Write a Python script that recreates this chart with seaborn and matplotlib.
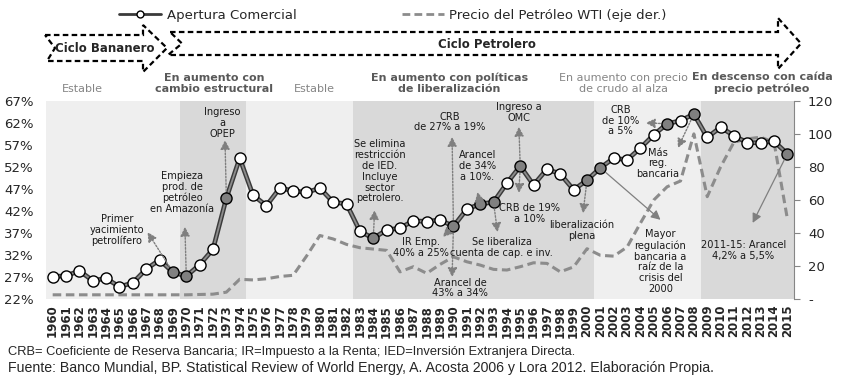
import matplotlib
matplotlib.use('Agg')
import matplotlib.pyplot as plt
from matplotlib.lines import Line2D
from matplotlib.patches import Polygon
import seaborn as sns
import pandas as pd

# --- Datos ---
years = list(range(1960, 2016))
apertura = [27.1, 27.3, 28.4, 26.2, 26.7, 24.8, 25.7, 28.8, 30.9, 28.1,
            27.2, 29.8, 33.3, 44.9, 54.0, 45.6, 43.2, 47.2, 46.6, 46.2,
            47.2, 44.0, 43.6, 37.4, 35.8, 37.7, 38.1, 39.8, 39.6, 40.0,
            38.5, 42.4, 43.6, 44.0, 48.3, 52.2, 47.9, 51.5, 50.4, 46.8,
            49.0, 51.8, 54.0, 53.6, 56.3, 59.3, 61.8, 62.5, 64.0, 58.7,
            61.0, 59.1, 57.5, 57.5, 57.8, 55.0]
petroleo = [2.6, 2.6, 2.6, 2.6, 2.6, 2.6, 2.6, 2.6, 2.6, 2.6,
            2.6, 2.8, 3.0, 4.2, 12.0, 11.6, 12.3, 13.7, 14.4, 26.0,
            38.5, 36.4, 33.1, 31.1, 30.3, 29.5, 16.5, 19.6, 15.6, 21.0,
            25.6, 22.6, 20.6, 18.0, 17.6, 19.6, 22.0, 21.6, 16.5, 19.5,
            30.5, 26.5, 26.0, 31.5, 46.0, 60.0, 68.0, 71.5, 100.0, 62.0,
            80.0, 95.0, 97.0, 98.0, 95.0, 48.5]
hitos = [1969, 1970, 1973, 1984, 1990, 1992, 1993, 1995, 2000, 2001, 2006, 2008, 2015]

etapa_ini = [1959.5, 1969.5, 1974.5, 1982.5, 2000.5, 2008.5]
etapa_fin = [1969.5, 1974.5, 1982.5, 2000.5, 2008.5, 2015.5]
etapa_color = ['#efefef', '#d9d9d9', '#efefef', '#d9d9d9', '#efefef', '#d9d9d9']
etapa_texto = ["Estable", "En aumento con\ncambio estructural", "Estable",
               "En aumento con políticas\nde liberalización",
               "En aumento con precio\nde crudo al alza",
               "En descenso con caída\nprecio petróleo"]
etapa_x = [1962.2, 1972.1, 1979.6, 1989.7, 2002.7, 2013.1]
etapa_negrita = [False, True, False, True, False, True]

# (texto, x texto, y texto, x punta, y punta, año del punto)
notas = [
    ("Primer\nyacimiento\npetrolífero", 1964.8, 37.7, 1967.1, 37.2, 1969),
    ("Empieza\nprod. de\npetróleo\nen Amazonía", 1969.7, 46.2, 1969.9, 38.4, 1970),
    ("Ingreso\na\nOPEP", 1972.7, 62.0, 1972.9, 58.1, 1973),
    ("Se elimina\nrestricción\nde IED.\nIncluye\nsector\npetrolero.", 1984.5, 51.0, 1984.1, 42.2, 1984),
    ("IR Emp.\n40% a 25%", 1987.6, 33.7, 1989.2, 36.1, 1990),
    ("CRB\nde 27% a 19%", 1989.7, 62.2, 1989.9, 58.8, 1990),
    ("Arancel de\n43% a 34%", 1990.5, 24.5, 1989.9, 27.0, 1990),
    ("Arancel\nde 34%\na 10%.", 1991.8, 52.2, 1991.8, 46.3, 1992),
    ("Se liberaliza\ncuenta de cap. e inv.", 1993.6, 33.8, 1993.3, 37.2, 1993),
    ("Ingreso a\nOMC", 1994.9, 64.4, 1994.9, 61.1, 1995),
    ("CRB de 19%\na 10%", 1995.7, 41.5, 1994.9, 46.1, 1995),
    ("liberalización\nplena", 1999.6, 37.6, 1999.7, 41.5, 2000),
    ("CRB\nde 10%\na 5%", 2002.5, 62.5, 2004.4, 62.0, 2006),
    ("Más\nreg.\nbancaria", 2005.3, 52.8, 2006.8, 56.3, 2008),
    ("Mayor\nregulación\nbancaria a\nraíz de la\ncrisis del\n2000", 2005.5, 30.5, 2005.5, 40.0, 2001),
    ("2011-15: Arancel\n4,2% a 5,5%", 2011.7, 33.0, 2012.4, 39.3, 2015),
]

df = pd.DataFrame({'anio': years, 'apertura': apertura, 'petroleo': petroleo})
df['hito'] = df['anio'].isin(hitos)

sns.set_style("white")
plt.rcParams['font.family'] = ['DejaVu Sans']

fig, ax = plt.subplots(figsize=(8.52, 3.82), dpi=100)
fig.subplots_adjust(left=0.054, right=0.932, bottom=0.217, top=0.736)
ax2 = ax.twinx()
ax.set_zorder(ax2.get_zorder() + 1)
ax.patch.set_visible(False)

# fondo por etapas (en el eje de abajo)
for a, b, c in zip(etapa_ini, etapa_fin, etapa_color):
    ax2.axvspan(a, b, color=c, lw=0, zorder=0)

sns.lineplot(data=df, x='anio', y='petroleo', ax=ax2, color='#8c8c8c', lw=2.2,
             linestyle=(0, (2.8, 1.5)), zorder=2)
ax2.set_ylim(0, 120)
ax2.set_yticks([0, 20, 40, 60, 80, 100, 120])
ax2.set_yticklabels(['-', '20', '40', '60', '80', '100', '120'], fontsize=9.5)

sns.lineplot(data=df, x='anio', y='apertura', ax=ax, color='#3a3a3a', lw=3.4, zorder=3)
sns.lineplot(data=df, x='anio', y='apertura', ax=ax, color='#8c8c8c', lw=1.3, zorder=4)
sns.scatterplot(data=df[~df['hito']], x='anio', y='apertura', ax=ax, s=64,
                color='white', edgecolor='black', linewidth=1.0, zorder=5)
sns.scatterplot(data=df[df['hito']], x='anio', y='apertura', ax=ax, s=64,
                color='#808080', edgecolor='black', linewidth=1.0, zorder=5)

ax.set_xlim(1959.5, 2015.5)
ax.set_ylim(22, 67)
ax.set_yticks(range(22, 68, 5))
ax.set_yticklabels([f"{v}%" for v in range(22, 68, 5)], fontsize=9.5)
ax.set_xticks(years)
ax.set_xticklabels([str(y) for y in years], rotation=90, fontsize=8.5, fontweight='bold')
ax.tick_params(axis='x', length=0, pad=4)
ax.tick_params(axis='y', length=0, pad=9)
ax.set_xlabel('')
ax.set_ylabel('')
ax2.set_ylabel('')
for s in ['top', 'left', 'bottom', 'right']:
    ax.spines[s].set_visible(False)
    ax2.spines[s].set_visible(False)
ax2.spines['right'].set_visible(True)
ax2.spines['right'].set_color('#868686')
ax2.tick_params(axis='y', length=4, color='#868686', pad=6)

# etiquetas de etapas
for t, x, neg in zip(etapa_texto, etapa_x, etapa_negrita):
    ax.text(x, 1.035, t, transform=ax.get_xaxis_transform(), ha='center', va='bottom',
            fontsize=8, linespacing=1.15,
            fontweight='bold' if neg else 'normal',
            color='#595959' if neg else '#858585')

# anotaciones
for t, tx, ty, hx, hy, yr in notas:
    vy = apertura[years.index(yr)]
    ax.text(tx, ty, t, ha='center', va='center', fontsize=7.1, linespacing=1.1,
            color='#1a1a1a', zorder=6)
    solida = yr in (2001, 2015)
    ax.annotate('', xy=(hx, hy), xytext=(yr, vy),
                arrowprops=dict(arrowstyle='-|>,head_length=0.55,head_width=0.28',
                                color='#7f7f7f', lw=0.9 if solida else 1.0,
                                linestyle='-' if solida else (0, (1.2, 1.2)),
                                shrinkA=5, shrinkB=0), zorder=6)

# leyenda
h1 = Line2D([], [], color='#3a3a3a', lw=2, marker='o', markersize=5,
            markerfacecolor='white', markeredgecolor='black')
h2 = Line2D([], [], color='#8c8c8c', lw=2, linestyle=(0, (2.8, 1.5)))
fig.legend([h1, h2], ['Apertura Comercial', 'Precio del Petróleo WTI (eje der.)'],
           loc='center', bbox_to_anchor=(393 / 852, 1 - 15 / 382), ncol=2, frameon=False,
           fontsize=9.5, handlelength=3.2, columnspacing=8.0, handletextpad=0.4)

# flechas de ciclos y notas al pie (coordenadas en pixeles)
ov = fig.add_axes([0, 0, 1, 1])
ov.set_xlim(0, 852)
ov.set_ylim(382, 0)
ov.axis('off')
ov.set_zorder(10)
bananero = [(45, 35), (143, 35), (143, 25), (167, 48), (143, 72), (143, 61), (47, 61), (55, 48)]
petrolero = [(170, 32), (778, 32), (778, 18), (801, 43.5), (778, 69), (778, 55), (168, 55), (182, 43.5)]
for pts in (bananero, petrolero):
    ov.add_patch(Polygon(pts, closed=True, fill=False, edgecolor='black', lw=1.6,
                         linestyle=(0, (2.5, 1.5))))
ov.text(105, 48, 'Ciclo Bananero', ha='center', va='center', fontsize=8.5, fontweight='bold')
ov.text(487, 44, 'Ciclo Petrolero', ha='center', va='center', fontsize=8.5, fontweight='bold')
ov.text(8, 352, 'CRB= Coeficiente de Reserva Bancaria; IR=Impuesto a la Renta; '
        'IED=Inversión Extranjera Directa.', ha='left', va='center', fontsize=9.3,
        family=['Liberation Sans', 'DejaVu Sans'])
ov.text(8, 368, 'Fuente: Banco Mundial, BP. Statistical Review of World Energy, '
        'A. Acosta 2006 y Lora 2012. Elaboración Propia.', ha='left', va='center',
        fontsize=10.2, family=['Liberation Sans', 'DejaVu Sans'])

fig.savefig('out.png', dpi=100)
plt.close()
